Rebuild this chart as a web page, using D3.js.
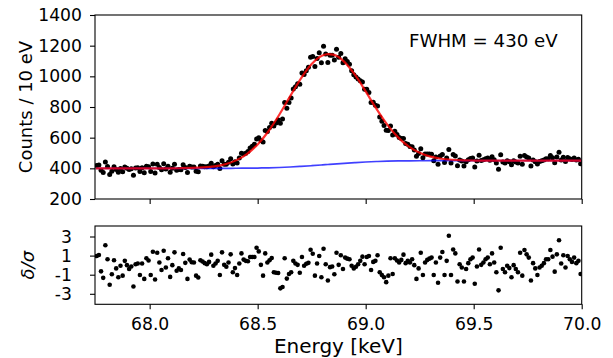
<!DOCTYPE html>
<html>
<head>
<meta charset="utf-8">
<script src="https://cdn.jsdelivr.net/npm/d3@7"></script>
<style>
  body { margin: 0; background: #fff; }
  svg { display: block; font-family: "DejaVu Sans", sans-serif; }
</style>
</head>
<body>
<svg id="chart" width="613" height="358"></svg>
<script>
// counts per 10 eV bin (upper panel), bins start at 67.755 keV
const counts = [
  419,421,387,373,442,412,359,381,410,393, 375,399,378,409,400,392,397,355,402,403,
  379,403,371,414,410,379,428,370,426,405, 390,430,395,414,375,400,427,388,393,390,
  424,406,373,414,408,408,381,378,415,413, 411,410,416,433,411,418,426,399,450,426,
  426,440,463,429,443,434,468,499,494,499, 509,532,544,557,592,599,582,572,647,640,
  666,694,676,696,716,694,721,829,792,830, 858,917,932,951,949,1022,1012,1037,1060,1124,
  1129,1064,1117,1154,1089,1196,1146,1091,1138,1138, 1106,1176,1125,1149,1089,1115,1096,1078,1037,1010,
  995,983,972,963,916,916,895,830,831,812, 806,735,707,680,648,647,676,617,642,621,
  601,595,595,562,557,543,541,519,479,497, 527,469,493,494,493,492,449,474,426,481,
  491,438,468,523,434,490,481,417,455,448, 416,443,456,464,468,409,448,485,451,456,
  463,467,452,476,456,434,394,489,441,434, 449,443,423,450,441,434,478,427,483,474,
  467,416,454,443,428,445,449,454,463,463, 483,469,436,474,505,454,472,445,470,463,
  457,467,454,460,430
];

// normalised residuals (lower panel)
const residuals = [
  0.96,1.06,-0.65,-1.33,2.09,0.62,-2.05,-0.96,0.51,-0.34, -1.27,-0.07,-1.10,0.45,0.00,-0.41,-0.14,-2.23,0.10,0.17,
  -1.03,0.17,-1.44,0.72,0.48,-1.03,1.40,-1.51,1.30,0.27, -0.51,1.51,-0.24,0.72,-1.23,0.00,1.34,-0.58,-0.34,-0.51,
  1.16,0.24,-1.44,0.58,0.31,0.27,-1.10,-1.30,0.51,0.38, 0.21,0.10,0.34,1.10,-0.07,0.17,0.45,-1.03,1.34,0.03,
  -0.17,0.27,1.13,-0.75,-0.31,-1.03,0.17,1.23,0.58,0.45, 0.41,0.86,0.86,0.86,1.82,1.44,0.03,-1.10,1.23,0.27,
  0.51,0.75,-0.75,-0.79,-0.82,-2.43,-2.29,0.72,-1.41,-0.92, -0.75,0.45,0.17,0.03,-0.79,0.86,-0.07,0.14,0.24,1.61,
  1.20,-1.10,0.17,0.96,-1.27,1.71,0.10,-1.61,-0.21,-0.14, -0.96,1.30,0.03,
  1.03,-0.41,0.79,0.68,0.62,-0.07,-0.34,-0.17,0.10,0.45, 0.89,0.10,0.86,0.96,-0.51,0.34,0.45,1.03,-0.75,-1.03,
  -1.27,-1.78,-1.10,0.72,-0.92,0.72,0.48,0.27,0.55,1.10, 0.21,0.45,0.27,0.62,0.00,-1.44,-0.34,1.30,-1.03,0.27,
  0.55,0.68,0.79,-1.03,0.27,-1.85,0.79,1.37,-1.03,0.45, 3.08,-1.03,1.64,1.23,-1.71,0.10,-0.24,-1.71,-0.41,0.21,
  0.62,0.79,-1.95,-0.14,1.64,0.03,0.27,0.62,0.79,0.10, 1.23,0.27,-0.75,-2.64,1.82,-0.41,-0.75,-0.07,-0.31,-1.27,
  0.00,-0.41,-0.75,1.30,-1.10,1.58,1.13,0.79,-1.61,0.21, -0.34,-1.03,-0.24,-0.07,0.21,0.62,0.62,1.58,0.89,-0.68,
  1.13,2.60,0.17,1.03,-0.24,0.96,0.62,0.34,0.79,0.21, 0.45,-0.92
];

// fit curves (red = total, blue = background)
const fitEnergy = [67.75,67.80,67.85,67.90,67.95,68.00,68.05,68.10,68.15,68.20,68.25,68.30,68.35,68.40,68.45,
  68.50,68.55,68.60,68.65,68.70,68.75,68.80,68.825,68.85,68.90,68.95,69.00,69.05,69.10,69.15,69.20,69.25,69.30,
  69.35,69.40,69.45,69.50,69.55,69.60,69.65,69.70,69.75,69.80,69.85,69.90,69.95,70.00];
const fitTotal = [400,400,400,400,400,400,400,400.3,400.9,402.4,405.8,412.9,427.0,451.9,493.4,
  555.9,641.9,749.3,868.9,985.5,1080.3,1135.8,1145.0,1141.2,1096.1,1010.5,901.7,788.1,685.1,601.9,541.2,500.9,476.4,
  462.7,455.8,452.4,450.9,450.3,450,450,450,450,450,450,450,450,450];
const fitBackground = [400,400,400,400,400,400,400,400,400,400,400.05,400.1,400.3,400.5,401.1,
  402.0,403.4,405.6,408.6,412.5,417.1,422.3,425.0,427.7,432.9,437.5,441.4,444.4,446.6,448.0,448.9,449.5,449.7,
  449.9,450,450,450,450,450,450,450,450,450,450,450,450,450];

const xTicks = [68.0, 68.5, 69.0, 69.5, 70.0];
const countTicks = [200, 400, 600, 800, 1000, 1200, 1400];
const residTicks = [3, 1, -1, -3];
const binStart = 67.755, binWidth = 0.01;

const energy = counts.map((_, i) => binStart + i * binWidth);

const svg = d3.select('#chart');
const left = 95, right = 581.7;
const top1 = 15, bottom1 = 199;
const top2 = 226, bottom2 = 304.3;
const tickFont = 17.2;

const x = d3.scaleLinear().domain([67.747, 70.0]).range([left, right]);
const yC = d3.scaleLinear().domain([200, 1400]).range([bottom1, top1]);
const yR = d3.scaleLinear().domain([-4.1, 4.1]).range([bottom2, top2]);

const defs = svg.append('defs');
defs.append('clipPath').attr('id', 'clipTop').append('rect')
  .attr('x', left).attr('y', top1).attr('width', right - left).attr('height', bottom1 - top1);
defs.append('clipPath').attr('id', 'clipBot').append('rect')
  .attr('x', left).attr('y', top2).attr('width', right - left).attr('height', bottom2 - top2);

// upper panel
const gTop = svg.append('g').attr('clip-path', 'url(#clipTop)');
gTop.selectAll('circle.pt')
  .data(counts)
  .enter().append('circle')
  .attr('class', 'pt')
  .attr('cx', (d, i) => x(energy[i]))
  .attr('cy', d => yC(d))
  .attr('r', 2.5)
  .attr('fill', '#000');

const fitLine = (vals) => d3.line()
  .x((d, i) => x(fitEnergy[i]))
  .y(d => yC(d))
  .curve(d3.curveMonotoneX)(vals);

gTop.append('path')
  .attr('d', fitLine(fitBackground))
  .attr('fill', 'none')
  .attr('stroke', '#0000ff')
  .attr('stroke-opacity', 0.75)
  .attr('stroke-width', 1.7);

gTop.append('path')
  .attr('d', fitLine(fitTotal))
  .attr('fill', 'none')
  .attr('stroke', '#ff0000')
  .attr('stroke-opacity', 0.8)
  .attr('stroke-width', 2.2);

// lower panel
const gBot = svg.append('g').attr('clip-path', 'url(#clipBot)');
gBot.selectAll('circle')
  .data(residuals)
  .enter().append('circle')
  .attr('cx', (d, i) => x(energy[i]))
  .attr('cy', d => yR(d))
  .attr('r', 2.3)
  .attr('fill', '#000');

// axes
function styleAxis(g) {
  g.select('.domain').remove();
  g.selectAll('.tick line').attr('stroke', '#000').attr('stroke-width', 1.1);
  g.selectAll('.tick text').attr('fill', '#000').style('font-size', tickFont + 'px')
    .style('font-family', '"DejaVu Sans", sans-serif');
}

svg.append('g').attr('transform', `translate(${left},0)`)
  .call(d3.axisLeft(yC).tickValues(countTicks).tickSize(5).tickPadding(8).tickFormat(d3.format('d')))
  .call(styleAxis);

svg.append('g').attr('transform', `translate(0,${bottom1})`)
  .call(d3.axisBottom(x).tickValues(xTicks).tickSize(5).tickFormat(''))
  .call(styleAxis);

svg.append('g').attr('transform', `translate(${left},0)`)
  .call(d3.axisLeft(yR).tickValues(residTicks).tickSize(5).tickPadding(18).tickFormat(d => String(d)))
  .call(styleAxis);

svg.append('g').attr('transform', `translate(0,${bottom2})`)
  .call(d3.axisBottom(x).tickValues(xTicks).tickSize(5).tickPadding(8).tickFormat(d3.format('.1f')))
  .call(styleAxis);

// frames
[[top1, bottom1], [top2, bottom2]].forEach(([t, b]) => {
  svg.append('rect')
    .attr('x', left).attr('y', t)
    .attr('width', right - left).attr('height', b - t)
    .attr('fill', 'none').attr('stroke', '#000').attr('stroke-width', 1.1);
});

// labels
svg.append('text')
  .attr('transform', `translate(32,${(top1 + bottom1) / 2}) rotate(-90)`)
  .attr('text-anchor', 'middle')
  .style('font-size', '18px')
  .text('Counts / 10 eV');

svg.append('text')
  .attr('transform', `translate(34,${(top2 + bottom2) / 2}) rotate(-90)`)
  .attr('text-anchor', 'middle')
  .style('font-size', '18px')
  .style('font-style', 'italic')
  .text('δ/σ');

svg.append('text')
  .attr('x', (left + right) / 2)
  .attr('y', 352.5)
  .attr('text-anchor', 'middle')
  .style('font-size', '20px')
  .text('Energy [keV]');

svg.append('text')
  .attr('x', 409)
  .attr('y', 46.7)
  .style('font-size', '18.2px')
  .text('FWHM = 430 eV');
</script>
</body>
</html>
